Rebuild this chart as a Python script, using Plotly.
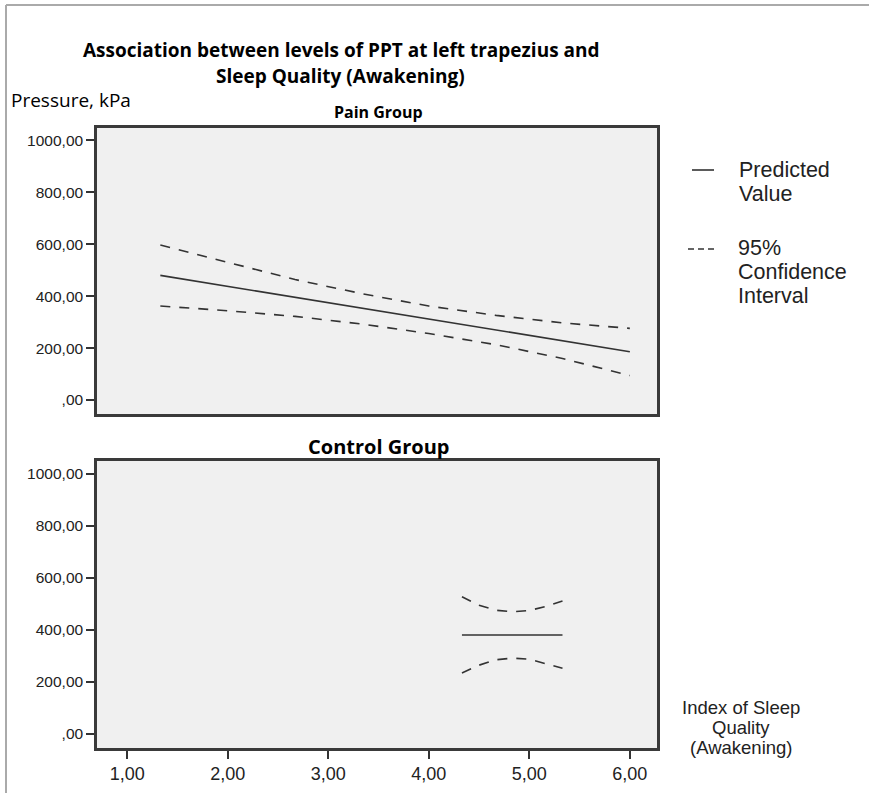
import plotly.graph_objects as go

# Sleep quality index (x) and pressure pain threshold (kPa)
pain_x = [1.33, 2.0, 2.67, 3.33, 4.0, 4.67, 5.33, 6.0]
pain_pred = [480, 438, 396, 354, 312, 270, 228, 186]
pain_upper = [597, 530, 464, 410, 362, 326, 297, 276]
pain_lower = [362, 344, 322, 293, 256, 213, 160, 94]

ctrl_x = [4.33, 4.5, 4.67, 4.83, 5.0, 5.17, 5.33]
ctrl_pred = [380, 380, 380, 380, 380, 380, 380]
ctrl_upper = [527, 494, 475, 469, 474, 490, 510]
ctrl_lower = [234, 264, 285, 291, 287, 270, 252]

x_ticks = [1, 2, 3, 4, 5, 6]
x_tick_labels = ["1,00", "2,00", "3,00", "4,00", "5,00", "6,00"]
y_ticks = [0, 200, 400, 600, 800, 1000]
y_tick_labels = [",00", "200,00", "400,00", "600,00", "800,00", "1000,00"]

W, H = 869, 793
FONT = "Liberation Sans"
TITLE_FONT = "Open Sans"
INK = "#222222"
LINE = "#333333"


def px(x):
    return x / W


def py(y):
    return 1 - y / H


fig = go.Figure()

line_style = dict(color=LINE, width=1.6)
dash_style = dict(color=LINE, width=1.6, dash="10px,9px")

for xs, pred, up, lo, xa, ya in [
    (pain_x, pain_pred, pain_upper, pain_lower, "x", "y"),
    (ctrl_x, ctrl_pred, ctrl_upper, ctrl_lower, "x2", "y2"),
]:
    fig.add_trace(go.Scatter(x=xs, y=up, mode="lines", line=dash_style,
                             xaxis=xa, yaxis=ya, showlegend=False, hoverinfo="skip"))
    fig.add_trace(go.Scatter(x=xs, y=lo, mode="lines", line=dash_style,
                             xaxis=xa, yaxis=ya, showlegend=False, hoverinfo="skip"))
    fig.add_trace(go.Scatter(x=xs, y=pred, mode="lines", line=line_style,
                             xaxis=xa, yaxis=ya, showlegend=False, hoverinfo="skip"))

x_dom = [px(97), px(657)]
y_top_dom = [py(414), py(128)]
y_bot_dom = [py(748), py(461)]

yaxis_common = dict(
    range=[-54, 1048], tickvals=y_ticks, ticktext=y_tick_labels,
    ticks="outside", ticklen=8, tickwidth=1.5, tickcolor=LINE,
    showgrid=False, zeroline=False, showline=True, linecolor="#3a3a3a",
    linewidth=2.5, mirror=True, tickfont=dict(family=FONT, size=15.5, color=INK),
)
xaxis_common = dict(
    range=[0.70, 6.27], tickvals=x_ticks, ticktext=x_tick_labels,
    showgrid=False, zeroline=False, showline=True, linecolor="#3a3a3a",
    linewidth=2.5, mirror=True, domain=x_dom,
)

fig.update_layout(
    width=W, height=H,
    margin=dict(l=0, r=0, t=0, b=0),
    paper_bgcolor="white", plot_bgcolor="#f0f0f0",
    xaxis=dict(**xaxis_common, anchor="y", showticklabels=False, ticks=""),
    yaxis=dict(**yaxis_common, domain=y_top_dom, anchor="x"),
    xaxis2=dict(**xaxis_common, anchor="y2", ticks="outside", ticklen=8,
                tickwidth=1.5, tickcolor=LINE,
                tickfont=dict(family=FONT, size=18, color=INK)),
    yaxis2=dict(**yaxis_common, domain=y_bot_dom, anchor="x2"),
    showlegend=False,
)


def label(text, x, y, size, family=FONT, xanchor="center", color=INK):
    return dict(text=text, x=px(x), y=py(y), xref="paper", yref="paper",
                showarrow=False, xanchor=xanchor, yanchor="middle",
                font=dict(family=family, size=size, color=color))


annotations = [
    label("<b>Association between levels of PPT at left trapezius and</b>", 341, 50, 19, TITLE_FONT, color="black"),
    label("<b>Sleep Quality (Awakening)</b>", 340, 76, 19, TITLE_FONT, color="black"),
    label("Pressure, kPa", 9, 100, 19, TITLE_FONT, xanchor="left", color="black"),
    label("<b>Pain Group</b>", 378, 112, 16, TITLE_FONT, color="black"),
    label("<b>Control Group</b>", 378, 446, 20, TITLE_FONT, color="black"),
    # legend text
    label("Predicted", 737, 170, 21.5, xanchor="left"),
    label("Value", 737, 194, 21.5, xanchor="left"),
    label("95%", 736, 248, 21.5, xanchor="left"),
    label("Confidence", 736, 272, 21.5, xanchor="left"),
    label("Interval", 736, 296, 21.5, xanchor="left"),
    # x-axis title
    label("Index of Sleep", 741, 707, 18.5),
    label("Quality", 741, 727, 18.5),
    label("(Awakening)", 741, 747, 18.5),
]
fig.update_layout(annotations=annotations)

shapes = [
    # outer frame
    dict(type="line", x0=px(6), x1=1, y0=py(5), y1=py(5), line=dict(color="#aaaaaa", width=2)),
    dict(type="line", x0=px(6), x1=px(6), y0=py(5), y1=0, line=dict(color="#aaaaaa", width=2)),
    # legend samples
    dict(type="line", x0=px(692), x1=px(714), y0=py(170), y1=py(170), line=dict(color=LINE, width=1.6)),
    dict(type="line", x0=px(688), x1=px(714), y0=py(249), y1=py(249),
         line=dict(color=LINE, width=1.6, dash="6px,4px")),
]
for s in shapes:
    s["xref"] = "paper"
    s["yref"] = "paper"
fig.update_layout(shapes=shapes)

fig.write_html("out.html")
